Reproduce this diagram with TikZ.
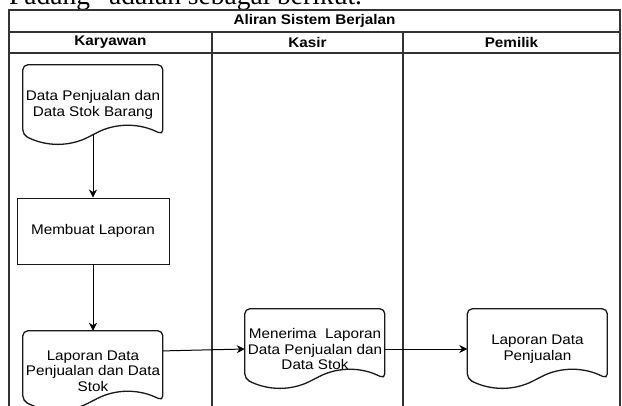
\documentclass[tikz,border=0pt]{standalone}
\usepackage{fontspec}
\setmainfont{Liberation Sans}[FakeStretch=1.09]
\newfontfamily\bodyserif{Liberation Serif}
\usetikzlibrary{arrows.meta,calc}

\tikzset{
  lane/.style={draw=black!80, line width=1.4pt},
  headtext/.style={inner sep=0pt, font=\bfseries\fontsize{14}{15}\selectfont},
  doctext/.style={align=center, inner sep=0pt, minimum width=140pt, minimum height=80pt,
    font=\fontsize{14}{15.5}\selectfont},
  docline/.style={draw=black!90, line width=1.3pt, rounded corners=5pt},
  procbox/.style={draw=black!90, line width=0.9pt, minimum width=152pt, minimum height=66pt,
    inner sep=0pt, font=\fontsize{14}{15.5}\selectfont},
  flow/.style={draw=black, line width=1pt, -{Stealth[length=8pt,width=8pt,inset=2.5pt]}}
}

% document symbol with a wavy lower edge, drawn around a named node
\newcommand\docoutline[1]{%
  \begin{scope}[shift={(#1.north west)}]
    \draw[docline] (70,0) -- (140,0) -- (140,70)
      .. controls (116.67,58) and (93.33,58) .. (70,70)
      .. controls (46.67,82) and (23.33,82) .. (0,70) -- (0,0) -- cycle;
  \end{scope}}

\begin{document}
\begin{tikzpicture}[x=1pt,y=-1pt]
  \useasboundingbox (0,0) rectangle (622,405);
  \clip (0,0) rectangle (622,405);

  % running text above the chart
  \node[anchor=base west, inner sep=0pt, font=\bodyserif\fontsize{27.5}{30}\selectfont]
    (lead) at (9,4) {Padang” adalah sebagai berikut.};

  % swimlane frame
  \draw[lane] (9,410) -- (9,10) -- (620,10) -- (620,410);
  \draw[lane] (9,32) -- (620,32);
  \draw[lane] (9,53) -- (620,53);
  \draw[lane] (212,32) -- (212,410);
  \draw[lane] (403,32) -- (403,410);

  \node[headtext] (title) at (314.5,21) {Aliran Sistem Berjalan};
  \node[headtext] (laneA) at (110.5,42.5) {Karyawan};
  \node[headtext] (laneB) at (307.5,42.5) {Kasir};
  \node[headtext] (laneC) at (511.5,42.5) {Pemilik};

  % steps
  \node[doctext] (docdata) at (93,105) {Data Penjualan dan\\Data Stok Barang};
  \docoutline{docdata}
  \node[procbox] (buat) at (93,231) {Membuat Laporan};
  \node[doctext] (doclap) at (93,371) {Laporan Data\\Penjualan dan Data\\Stok};
  \docoutline{doclap}
  \node[doctext] (terima) at (315,349) {Menerima\ \ Laporan\\Data Penjualan dan\\Data Stok};
  \docoutline{terima}
  \node[doctext] (lapjual) at (537.5,349) {Laporan Data\\Penjualan};
  \docoutline{lapjual}

  % connectors (the first one starts on the wavy edge, 10pt above the node's south)
  \draw[flow, shorten <=-10pt] (docdata.south) -- (buat.north);
  \draw[flow] (buat.south) -- (doclap.north);
  \draw[flow] ($(doclap.north east)!0.25!(doclap.south east)$) -- (terima.west);
  \draw[flow] (terima.east) -- (lapjual.west);
\end{tikzpicture}
\end{document}
